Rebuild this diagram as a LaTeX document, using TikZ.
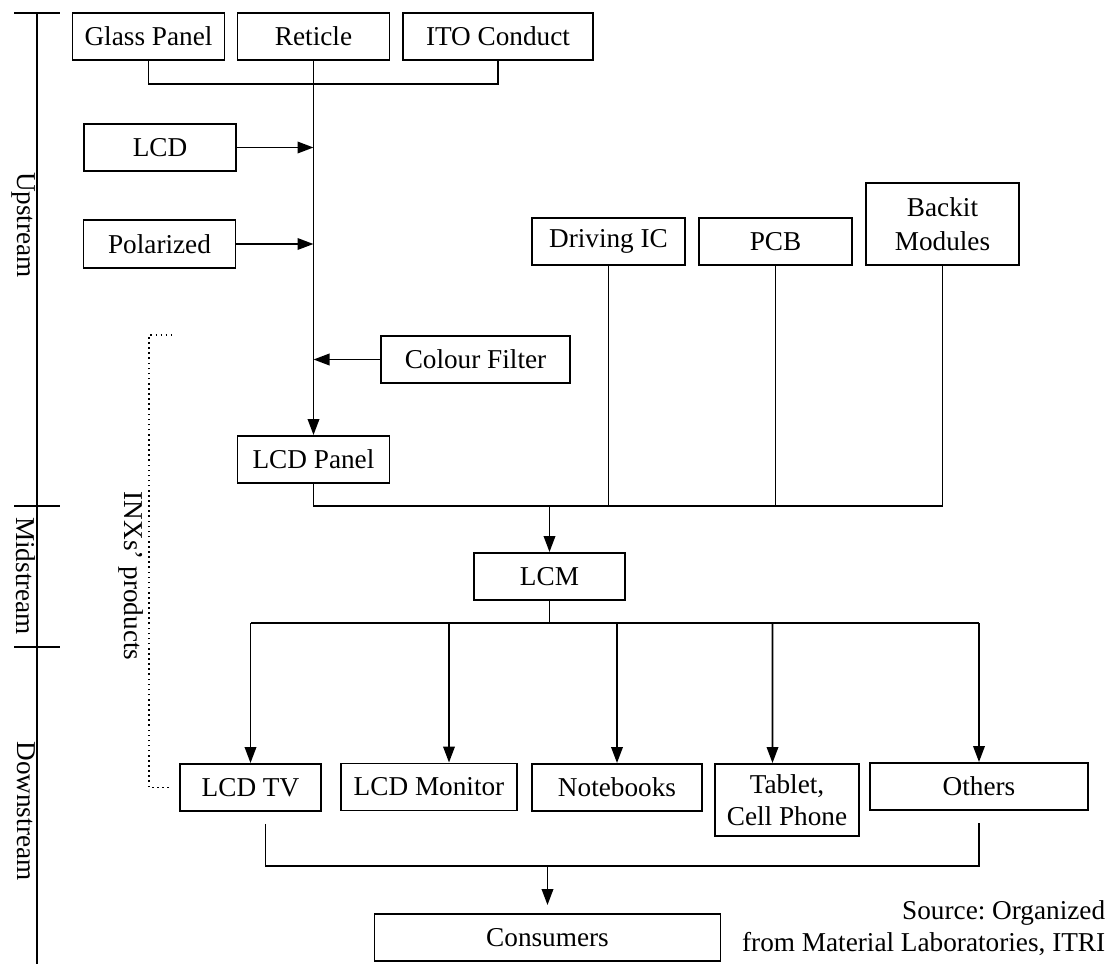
\documentclass[tikz,border=0pt]{standalone}
\usepackage{fontspec}
\setmainfont{Liberation Serif}
\usepackage{tikz}
\usetikzlibrary{arrows.meta, positioning, calc}

\begin{document}
\frenchspacing
\begin{tikzpicture}[
    line width=1.1pt,
    every node/.style={font=\fontsize{15.5}{18}\selectfont, align=center},
    box/.style={draw, line width=1.1pt, inner sep=0pt, minimum height=0.94cm, minimum width=3.04cm},
    arr/.style={-{Triangle[length=3.2mm, width=2.3mm]}},
    stage/.style={rotate=-90}
]
\useasboundingbox (0,0) rectangle (22.28,-19.28);
% supply side
\node[box] (glass) at (2.97,-0.73) {Glass Panel};
\node[box] (ret) at (6.27,-0.73) {Reticle};
\node[box, minimum width=3.8cm] (ito) at (9.96,-0.73) {ITO Conduct};
\node[box] (lcd) at (3.2,-2.95) {LCD};
\node[box, minimum height=0.96cm] (pol) at (3.19,-4.88) {Polarized};
\node[box, minimum width=3.78cm] (cf) at (9.51,-7.19) {Colour Filter};
\node[box] (panel) at (6.27,-9.19) {LCD Panel};
\node[box, minimum width=3.06cm] (drv) at (12.17,-4.83) {Driving IC};
\node[box, minimum width=3.06cm] (pcb) at (15.51,-4.83) {PCB};
\node[box, minimum width=3.07cm, minimum height=1.64cm] (back) at (18.85,-4.48) {Backit\\[1pt]Modules};
\node[box, minimum width=3.02cm] (lcm) at (10.99,-11.53) {LCM};
% applications
\node[box, minimum width=2.82cm] (tv) at (5.01,-15.75) {LCD TV};
\node[box, minimum width=3.52cm] (mon) at (8.58,-15.74) {LCD Monitor};
\node[box, minimum width=3.4cm] (nb) at (12.34,-15.75) {Notebooks};
\node[box, minimum width=2.88cm, minimum height=1.44cm] (tab) at (15.74,-16.0) {Tablet,\\Cell Phone};
\node[box, minimum width=4.36cm] (oth) at (19.58,-15.73) {Others};
\node[box, minimum width=6.92cm] (cons) at (10.95,-18.75) {Consumers};
\node[anchor=east, align=right] (src) at (22.24,-18.56) {Source: Organized\\from Material Laboratories, ITRI};

\coordinate (bus0) at (0,-1.68);
\coordinate (bus1) at (0,-10.12);
\coordinate (bus2) at (0,-12.46);
\coordinate (bus3) at (0,-17.32);

\draw (glass.south) |- (bus0 -| ito.south) -- (ito.south);
\draw[arr] (ret.south) -- (panel.north);
\draw[arr] (lcd.east) -- (lcd.east -| ret.south);
\draw[arr] (pol.east) -- (pol.east -| ret.south);
\draw[arr] (cf.west) -- (cf.west -| ret.south);

\draw (panel.south) |- (bus1 -| back.south) -- (back.south);
\draw (drv.south) -- (drv.south |- bus1);
\draw (pcb.south) -- (pcb.south |- bus1);
\draw[arr] (lcm.north |- bus1) -- (lcm.north);

\draw (lcm.south) -- (lcm.south |- bus2);
\draw (bus2 -| tv.north) -- (bus2 -| oth.north);
\draw[arr] (bus2 -| tv.north) -- (tv.north);
\draw[arr] (bus2 -| {$(mon.north)+(0.4,0)$}) -- ([xshift=4mm]mon.north);
\draw[arr] (bus2 -| nb.north) -- (nb.north);
\draw[arr] (bus2 -| {$(tab.north)+(-0.29,0)$}) -- ([xshift=-2.9mm]tab.north);
\draw[arr] (bus2 -| oth.north) -- (oth.north);

\draw ([xshift=3mm, yshift=-2.4mm]tv.south) |- (bus3 -| oth.south) -- ([yshift=-2.4mm]oth.south);
\draw[arr, shorten >=1.6mm] (bus3 -| cons.north) -- (cons.north);

% value chain stages
\coordinate (axtop) at (0.74,-0.26);
\coordinate (axbot) at (0.74,-19.28);
\draw (axtop) -- (axbot);
\foreach \y in {-0.26,-10.12,-12.94}
  \draw (0.28,\y) -- (1.2,\y);
\node[stage] (up) at (0.48,-4.5) {Upstream};
\node[stage] (mid) at (0.52,-11.52) {Midstream};
\node[stage] (down) at (0.52,-16.22) {Downstream};

\coordinate (inxtop) at (3.48,-6.7);
\draw[dotted, line width=0.9pt] ([xshift=-2mm]tv.west) -| (2.98,-6.7) -- (inxtop);
\node[stage] (inx) at (2.62,-11.52) {INXs’ products};
\end{tikzpicture}
\end{document}
